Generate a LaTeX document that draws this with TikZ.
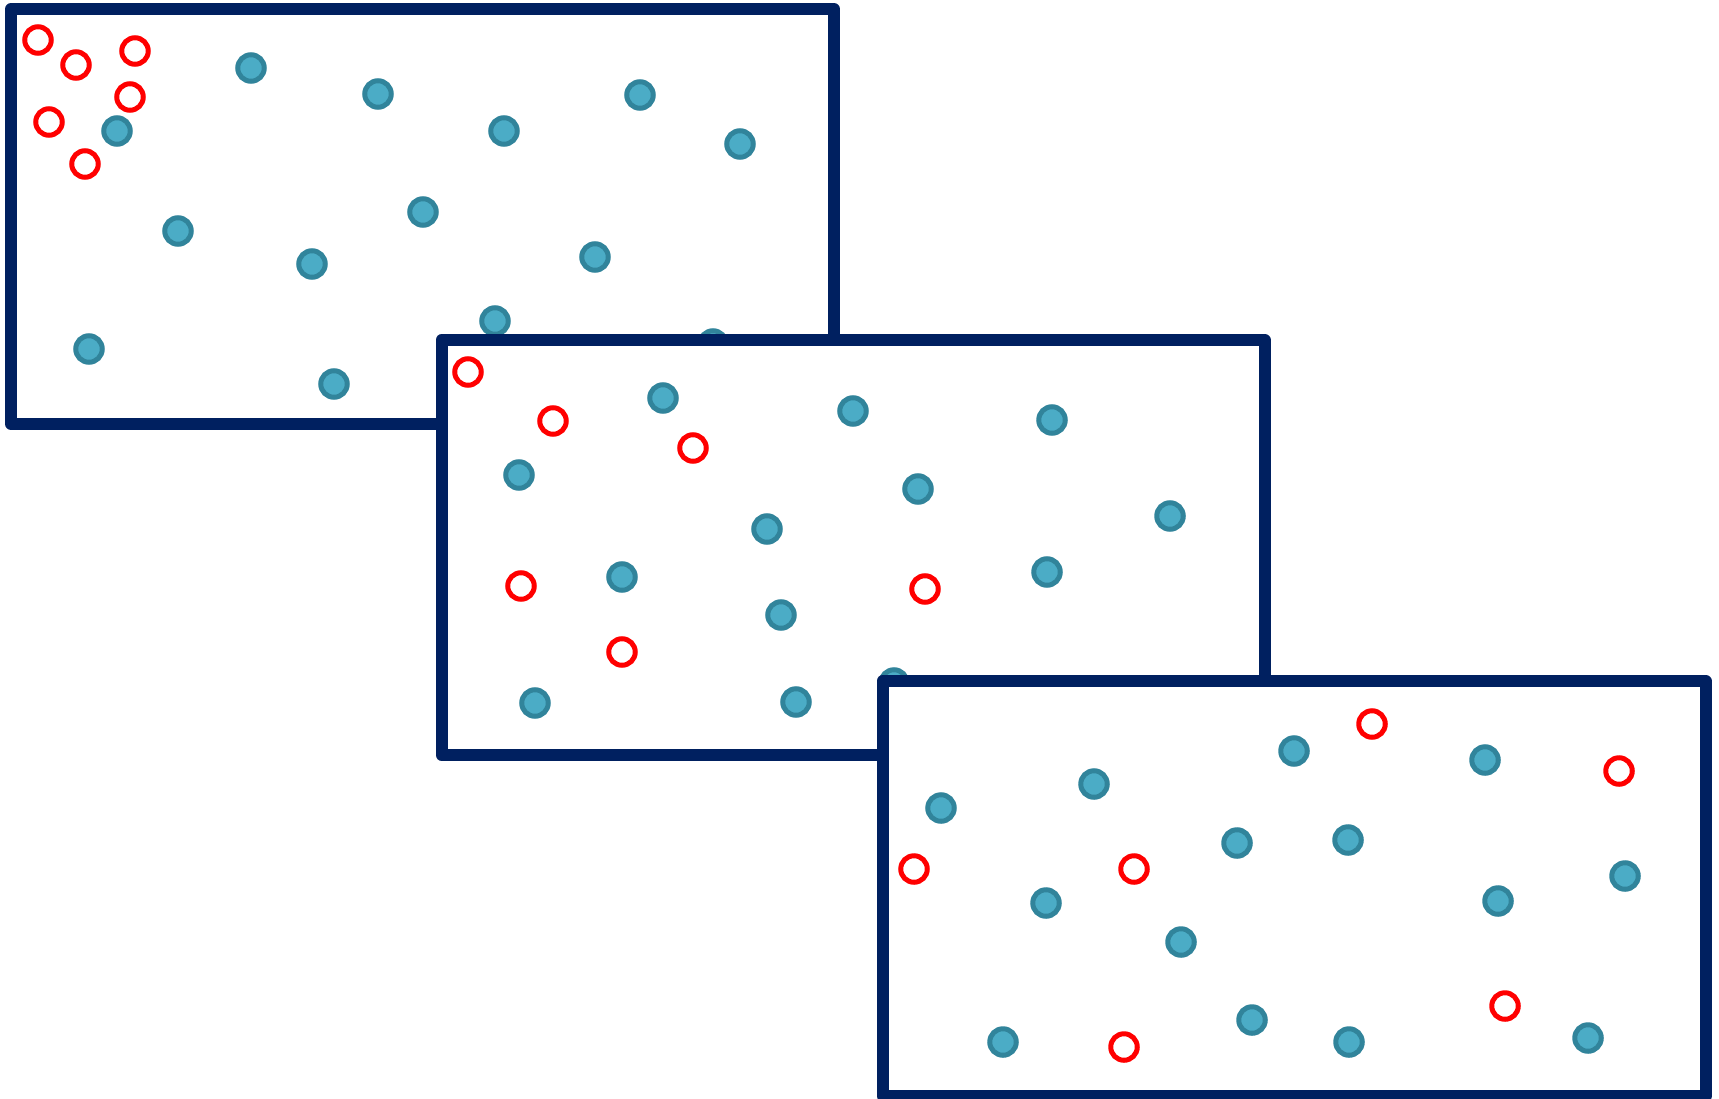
\documentclass[tikz,border=0pt]{standalone}
\usepackage{xcolor}
\usepackage{tikz}
\definecolor{framenavy}{HTML}{002060}
\definecolor{dotfill}{HTML}{4BACC6}
\definecolor{dotedge}{HTML}{31849B}

\begin{document}
\begin{tikzpicture}[x=1pt, y=-1pt,
    frame/.style={rectangle, draw=framenavy, fill=white, line width=12pt, line join=round, minimum width=823pt, minimum height=415pt, inner sep=0pt},
    bluedot/.style={circle, draw=dotedge, fill=dotfill, line width=5pt, minimum size=26.5pt, inner sep=0pt},
    reddot/.style={circle, draw=red, fill=white, line width=5pt, minimum size=26.5pt, inner sep=0pt}]

    \useasboundingbox (0,0) rectangle (1719,1098);

    % first sample
    \node [frame] (first) at (422.5,216.5) {};
    \node [reddot] (r11) at (38,40) {};
    \node [reddot] (r12) at (76,65) {};
    \node [reddot] (r13) at (135,51) {};
    \node [reddot] (r14) at (130,97) {};
    \node [reddot] (r15) at (49,122) {};
    \node [reddot] (r16) at (85,164) {};
    \node [bluedot] (b11) at (251,68) {};
    \node [bluedot] (b12) at (378,94) {};
    \node [bluedot] (b13) at (640,95) {};
    \node [bluedot] (b14) at (117,131) {};
    \node [bluedot] (b15) at (504,131) {};
    \node [bluedot] (b16) at (740,144) {};
    \node [bluedot] (b17) at (423,212) {};
    \node [bluedot] (b18) at (178,231) {};
    \node [bluedot] (b19) at (312,264) {};
    \node [bluedot] (b110) at (595,257) {};
    \node [bluedot] (b111) at (495,321) {};
    \node [bluedot] (b112) at (713,344) {};
    \node [bluedot] (b113) at (89,349) {};
    \node [bluedot] (b114) at (334,384) {};

    % second sample
    \node [frame] (second) at (853,547.5) {};
    \node [reddot] (r21) at (468,372) {};
    \node [reddot] (r22) at (553,421) {};
    \node [reddot] (r23) at (693,448) {};
    \node [reddot] (r24) at (521,586) {};
    \node [reddot] (r25) at (622,652) {};
    \node [reddot] (r26) at (925,589) {};
    \node [bluedot] (b21) at (663,398) {};
    \node [bluedot] (b22) at (853,411) {};
    \node [bluedot] (b23) at (1052,420) {};
    \node [bluedot] (b24) at (519,475) {};
    \node [bluedot] (b25) at (918,489) {};
    \node [bluedot] (b26) at (767,529) {};
    \node [bluedot] (b27) at (1170,516) {};
    \node [bluedot] (b28) at (622,577) {};
    \node [bluedot] (b29) at (1047,572) {};
    \node [bluedot] (b210) at (781,615) {};
    \node [bluedot] (b211) at (535,703) {};
    \node [bluedot] (b212) at (796,702) {};
    \node [bluedot] (b213) at (894,683) {};

    % third sample
    \node [frame] (third) at (1294,888.5) {};
    \node [reddot] (r31) at (1372,724) {};
    \node [reddot] (r32) at (1619,771) {};
    \node [reddot] (r33) at (914,869) {};
    \node [reddot] (r34) at (1134,869) {};
    \node [reddot] (r35) at (1505,1006) {};
    \node [reddot] (r36) at (1124,1047) {};
    \node [bluedot] (b31) at (1294,751) {};
    \node [bluedot] (b32) at (1485,760) {};
    \node [bluedot] (b33) at (1094,784) {};
    \node [bluedot] (b34) at (941,808) {};
    \node [bluedot] (b35) at (1237,843) {};
    \node [bluedot] (b36) at (1348,840) {};
    \node [bluedot] (b37) at (1625,876) {};
    \node [bluedot] (b38) at (1498,901) {};
    \node [bluedot] (b39) at (1046,903) {};
    \node [bluedot] (b310) at (1181,942) {};
    \node [bluedot] (b311) at (1252,1020) {};
    \node [bluedot] (b312) at (1003,1042) {};
    \node [bluedot] (b313) at (1349,1042) {};
    \node [bluedot] (b314) at (1588,1038) {};
\end{tikzpicture}
\end{document}
